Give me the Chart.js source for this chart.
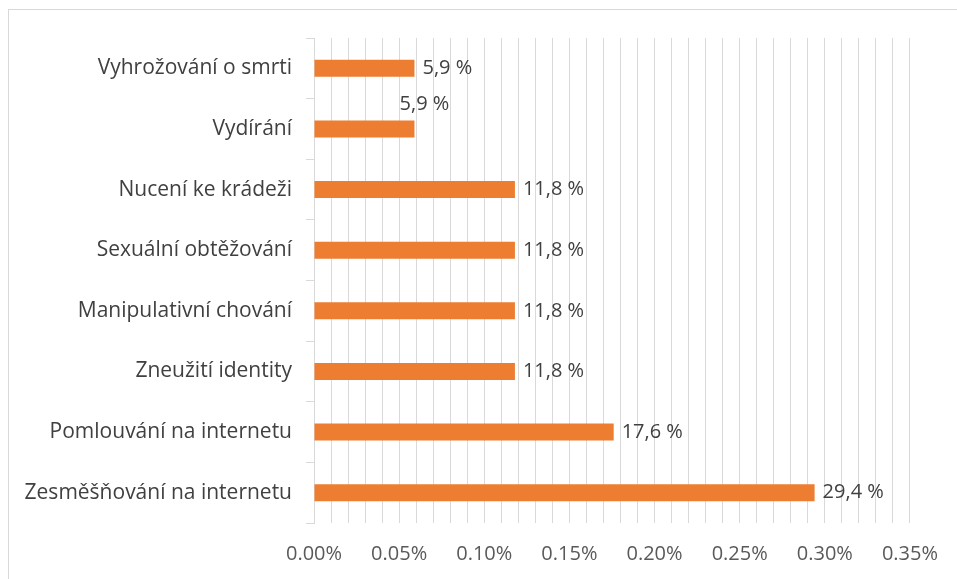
<!DOCTYPE html>
<html>
<head>
<meta charset="utf-8">
<script src="https://cdn.jsdelivr.net/npm/chart.js@4"></script>
<style>
  html, body { margin: 0; padding: 0; background: #fff; }
  #wrap { position: relative; width: 957px; height: 579px; overflow: hidden; }
  #ramecek { position: absolute; left: 8px; top: 9px; width: 1000px; height: 1000px; border: 1px solid #d9d9d9; }
  canvas { position: absolute; left: 0; top: 0; }
</style>
</head>
<body>
<div id="wrap">
  <div id="ramecek"></div>
  <canvas id="graf" width="957" height="579"></canvas>
</div>
<script>
// data z obrazku
const kategorie = [
  'Vyhrožování o smrti',
  'Vydírání',
  'Nucení ke krádeži',
  'Sexuální obtěžování',
  'Manipulativní chování',
  'Zneužití identity',
  'Pomlouvání na internetu',
  'Zesměšňování na internetu'
];
const hodnoty = [0.059, 0.059, 0.118, 0.118, 0.118, 0.118, 0.176, 0.294];
const popisky = ['5,9 %', '5,9 %', '11,8 %', '11,8 %', '11,8 %', '11,8 %', '17,6 %', '29,4 %'];

const pismo = '"Open Sans", Lato, sans-serif';

// popisky u konce sloupcu
const popiskyPlugin = {
  id: 'popisky',
  afterDatasetsDraw(chart) {
    const ctx = chart.ctx;
    const meta = chart.getDatasetMeta(0);
    ctx.save();
    ctx.font = '20px ' + pismo;
    ctx.fillStyle = '#404040';
    ctx.textBaseline = 'middle';
    meta.data.forEach((bar, i) => {
      if (i === 1) {
        // u Vydírání je popisek nad sloupcem
        ctx.textAlign = 'center';
        ctx.fillText(popisky[i], bar.x + 10, bar.y - 25);
      } else {
        ctx.textAlign = 'left';
        ctx.fillText(popisky[i], bar.x + 8, bar.y);
      }
    });
    ctx.restore();
  }
};

const ctx = document.getElementById('graf');
const graf = new Chart(ctx, {
  type: 'bar',
  data: {
    labels: kategorie,
    datasets: [{
      data: hodnoty,
      backgroundColor: '#ED7D31',
      barPercentage: 0.28,
      categoryPercentage: 1
    }]
  },
  plugins: [popiskyPlugin],
  options: {
    indexAxis: 'y',
    responsive: false,
    animation: false,
    layout: { padding: { top: 38, right: 47, bottom: 0, left: 0 } },
    plugins: {
      legend: { display: false },
      tooltip: { enabled: false }
    },
    scales: {
      x: {
        min: 0,
        max: 0.35,
        afterFit: function (s) { s.height = 56; },
        grid: { color: '#d9d9d9', drawTicks: false },
        border: { display: false },
        ticks: {
          stepSize: 0.01,
          autoSkip: false,
          maxRotation: 0,
          padding: 19,
          color: '#595959',
          font: { family: pismo, size: 20 },
          callback: function (v) {
            const n = Math.round(v * 100);
            return n % 5 === 0 ? (n / 100).toFixed(2) + '%' : '';
          }
        }
      },
      y: {
        afterFit: function (s) { s.width = 314; },
        grid: { color: '#d9d9d9', drawOnChartArea: false, tickLength: 8 },
        border: { color: '#d9d9d9' },
        ticks: {
          padding: 14,
          color: '#404040',
          font: { family: pismo, size: 21 }
        }
      }
    }
  }
});
</script>
</body>
</html>
